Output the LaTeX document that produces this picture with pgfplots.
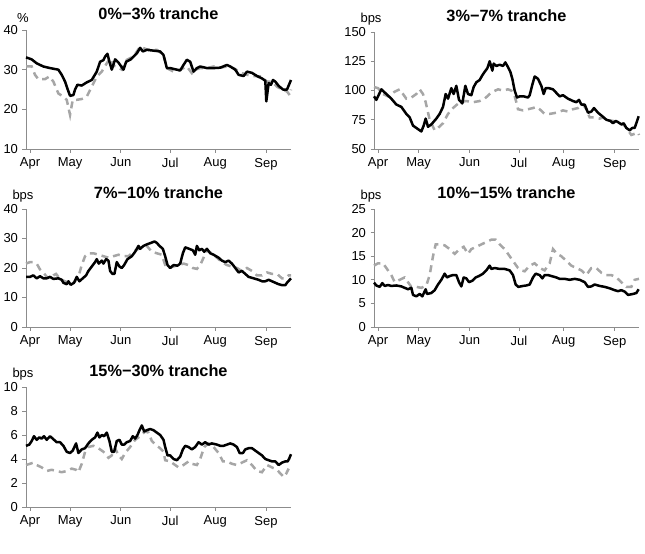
\documentclass[border=0pt]{standalone}
\usepackage{fontspec}
\setmainfont{Liberation Sans}
\usepackage{pgfplots}
\pgfplotsset{compat=1.18}
\definecolor{axgray}{HTML}{8C8C8C}
\definecolor{sergray}{HTML}{A6A6A6}
\pgfplotsset{
  panel/.style={
    scale only axis, width=265pt,
    axis x line*=bottom, axis y line*=left,
    axis line style={draw=axgray, line width=0.8pt},
    tick style={draw=axgray, line width=0.8pt},
    tick align=outside, major tick length=3.5pt,
    ticklabel style={font=\fontsize{13}{15}\selectfont},
    /pgf/number format/assume math mode=true,
    xticklabels={Apr,May,Jun,Jul,Aug,Sep},
    xticklabel style={yshift=-2pt},
    yticklabel style={xshift=-1pt},
    title style={font=\bfseries\fontsize{16.3}{19}\selectfont, anchor=base, at={(0.5,1)}, yshift=5pt},
    clip=false,
  },
  leftp/.style={panel, xmin=78, xmax=872, xtick={90,210,362,510,645,797}},
  rightp/.style={panel, xmin=163, xmax=958, xtick={175,297,450,598,732,885}},
  blk/.style={black, line width=2.5pt, line join=round},
  gry/.style={sergray, line width=2.5pt, dash pattern=on 7pt off 5pt},
}
\newcommand{\unitlab}[2]{\node[anchor=base, font=\fontsize{13}{15}\selectfont] at ([xshift=-3pt, yshift=#2]rel axis cs:0,1) {#1};}
\begin{document}
\begin{tikzpicture}
\useasboundingbox (0,0) rectangle (645pt,-554pt);
% Panel 1
\begin{axis}[leftp, at={(26pt,-149pt)}, anchor=south west, height=119pt,
  ymin=10, ymax=40, ytick={10,20,30,40}, title={0\%\textminus3\% tranche}]
\addplot[gry] coordinates {(78,30.8)(95,30.8)(105,28.7)(115,27.6)(135,27.6)(148,28.3)(160,27.0)(175,24.0)(190,23.2)(200,22.4)(210,18.6)(218,22.4)(230,22.4)(245,22.6)(260,23.2)(275,25.7)(290,28.3)(305,29.5)(320,31.6)(330,32.9)(340,31.0)(350,30.8)(365,30.0)(380,32.5)(400,33.3)(420,35.8)(440,35.1)(470,35.0)(490,33.7)(500,30.4)(520,29.5)(540,30.0)(560,30.8)(575,29.1)(585,30.0)(600,30.4)(620,30.4)(640,30.8)(660,30.5)(680,30.8)(700,30.4)(720,29.3)(740,28.7)(760,28.4)(780,28.3)(800,27.0)(815,27.0)(830,25.7)(845,25.0)(860,24.5)(868,23.6)(872,25.0)};
\addplot[blk] coordinates {(78,33.1)(95,32.6)(110,31.6)(130,30.8)(150,30.4)(175,30.0)(185,28.7)(195,27.0)(203,25.0)(210,23.4)(220,23.6)(225,25.0)(232,26.2)(245,26.0)(260,26.8)(275,27.4)(290,29.5)(300,32.0)(310,32.4)(315,33.3)(322,34.0)(328,32.0)(335,30.0)(345,32.6)(355,31.8)(370,30.0)(378,32.0)(392,32.6)(400,33.3)(410,34.1)(420,35.5)(428,34.6)(440,35.0)(460,34.8)(480,34.6)(490,33.7)(500,30.4)(510,30.4)(525,30.1)(540,29.8)(550,31.2)(560,32.5)(570,32.0)(580,29.5)(590,30.4)(600,30.8)(620,30.4)(640,30.4)(660,30.5)(680,31.2)(690,30.8)(705,30.0)(715,28.7)(730,28.4)(740,29.5)(755,29.2)(770,28.4)(785,27.8)(795,27.2)(798,22.0)(805,26.6)(812,26.2)(818,27.4)(825,27.0)(835,25.9)(848,25.0)(860,25.0)(872,27.4)};
\unitlab{\%}{8pt}
\end{axis}
% Panel 2
\begin{axis}[rightp, at={(374pt,-149pt)}, anchor=south west, height=117pt,
  ymin=50, ymax=150, ytick={50,75,100,125,150}, title={3\%\textminus7\% tranche}]
\addplot[gry] coordinates {(163,103)(175,102)(190,97)(205,95)(225,99)(240,101)(260,93)(275,94)(290,97)(300,101)(310,97)(318,90)(330,75)(345,66)(355,68)(370,72)(385,80)(400,85)(420,90)(440,91)(460,90)(480,91)(495,93)(510,97)(520,99)(535,101)(550,100)(565,101)(575,100)(585,95)(590,90)(595,84)(610,83)(625,84)(640,85)(650,86)(660,84)(675,80)(690,80)(710,81)(730,83)(745,82)(760,84)(775,85)(790,88)(800,84)(810,77)(825,77)(840,76)(850,77)(860,75)(880,74)(900,72)(915,70)(925,66)(935,62)(945,63)(955,64)(958,62)};
\addplot[blk] coordinates {(163,95)(170,92)(185,101)(200,97)(215,93)(230,88)(245,86)(260,80)(270,77)(280,70)(295,67)(305,65)(312,70)(318,76)(325,69)(335,71)(350,76)(360,80)(370,86)(378,97)(385,93)(395,102)(402,97)(410,104)(418,92)(428,89)(437,104)(445,97)(455,96)(462,103)(470,107)(480,109)(488,113)(495,116)(503,119)(510,125)(518,117)(522,123)(530,121)(540,122)(550,121)(557,124)(565,120)(572,116)(578,110)(585,100)(592,94)(600,95)(612,95)(625,94)(630,96)(638,105)(645,112)(655,110)(665,104)(672,97)(678,102)(688,102)(700,101)(710,98)(720,95)(730,96)(745,93)(760,91)(770,90)(778,92)(785,88)(795,88)(805,81)(815,82)(823,85)(835,81)(848,78)(860,75)(872,74)(880,72)(888,74)(895,73)(905,71)(912,72)(920,68)(930,66)(938,68)(945,68)(950,72)(957,78)};
\unitlab{bps}{10pt}
\end{axis}
% Panel 3
\begin{axis}[leftp, at={(26pt,-327pt)}, anchor=south west, height=118pt,
  ymin=0, ymax=40, ytick={0,10,20,30,40}, title={7\%\textminus10\% tranche}]
\addplot[gry] coordinates {(78,21.5)(90,22)(100,22)(110,21.5)(120,19.5)(130,18.5)(140,17)(150,16.5)(160,17.5)(168,18)(175,17)(185,16)(195,15.5)(205,15)(215,14.5)(225,15.5)(235,17)(245,21)(255,24)(265,25)(280,25)(295,24.5)(310,24)(325,23.5)(340,24)(355,24.5)(370,24)(385,24)(400,25.5)(415,26.5)(425,27)(440,27.5)(455,25.5)(470,25)(485,24.5)(495,21)(505,20)(520,20.5)(535,21)(550,21.5)(565,21)(578,20)(590,19.7)(600,21)(612,24)(620,26)(635,25)(650,23.5)(665,22)(680,21)(695,20.5)(710,20)(725,19)(740,20)(755,19)(770,17.5)(785,17.5)(800,18.5)(815,18)(830,18)(845,16.5)(855,16.5)(865,17.5)(872,17.5)};
\addplot[blk] coordinates {(78,17)(90,17)(100,17.5)(110,16.5)(120,17.2)(130,16.5)(140,16.5)(150,17)(160,16.3)(175,16.5)(185,16)(190,15)(200,14.5)(205,15.5)(212,14.3)(222,15)(230,17)(238,15.5)(248,16.5)(258,17.5)(265,19)(275,20.5)(285,22)(290,23)(296,21.5)(305,22.5)(310,21.5)(318,23)(325,22.5)(330,19)(337,18)(343,18)(350,22)(358,20.5)(365,20)(372,21)(382,23)(395,24)(405,25.5)(415,27.5)(420,26.5)(430,27.5)(440,28)(452,28.5)(463,29)(470,28.5)(478,27.5)(488,26.5)(495,24)(502,21)(510,20)(520,21)(532,20.8)(540,21.5)(548,25)(555,27)(567,26.5)(578,26)(585,24.5)(590,27.5)(597,26)(605,26.5)(612,25.5)(620,26.5)(630,25)(640,24.5)(655,23.5)(665,22.5)(675,22)(685,22.5)(695,21.5)(705,20)(715,18.5)(725,19)(735,18)(745,17)(760,16.5)(775,16)(785,15.5)(795,15.5)(805,16)(815,15.5)(825,15)(835,14.5)(845,14.2)(855,14.2)(860,15)(872,16.5)};
\unitlab{bps}{10pt}
\end{axis}
% Panel 4
\begin{axis}[rightp, at={(374pt,-327pt)}, anchor=south west, height=118pt,
  ymin=0, ymax=25, ytick={0,5,10,15,20,25}, title={10\%\textminus15\% tranche}]
\addplot[gry] coordinates {(163,13)(175,13.5)(190,13.5)(200,12.5)(215,11)(225,9.5)(240,10)(255,10.5)(265,9.5)(275,8.5)(290,8.5)(305,8.3)(320,8.8)(330,11)(340,15)(348,17.5)(360,17.5)(375,17.3)(390,16.5)(405,15.5)(420,16.5)(432,17)(445,15.5)(455,16.5)(470,17)(485,17.5)(500,18)(515,18.5)(528,18.5)(540,17.5)(555,16.5)(570,15)(585,13.5)(595,12.5)(605,12)(615,11.8)(630,13)(645,13.5)(660,12.5)(675,12)(690,13.5)(700,16.5)(712,15.5)(725,15)(740,14)(755,13)(770,12.5)(785,12)(800,11)(815,12.5)(830,12.5)(845,11.5)(860,11)(875,11)(890,10.5)(905,9.5)(920,8.5)(935,8.5)(945,10)(958,10.2)};
\addplot[blk] coordinates {(163,9.4)(170,8.8)(180,8.5)(188,9.3)(195,8.7)(205,8.9)(215,8.7)(230,8.8)(245,8.6)(255,8.3)(265,8)(275,8.3)(280,6.8)(290,6.5)(300,7)(308,6.5)(318,8)(322,7)(335,7.2)(345,7.8)(355,9)(365,10)(375,11.3)(382,10.5)(390,10.8)(400,11)(410,11)(418,9.5)(425,8.6)(432,10.5)(440,10.3)(448,9.5)(458,9.8)(468,10.5)(478,10.8)(490,11.3)(500,12)(510,13)(515,12.3)(525,12.5)(540,12.3)(555,12.3)(570,12)(580,11)(588,9)(596,8.5)(610,8.7)(620,8.8)(630,9)(640,10.5)(648,11.3)(660,11)(668,10.3)(675,11)(685,11)(695,10.8)(710,10.5)(720,10.2)(735,10.2)(750,10)(765,10.2)(780,10)(795,9.5)(805,8.5)(815,8.6)(825,9)(840,8.7)(855,8.5)(870,8.2)(885,7.8)(895,7.6)(905,7.8)(915,7.5)(925,6.8)(940,7)(950,7.2)(957,8)};
\unitlab{bps}{10pt}
\end{axis}
% Panel 5
\begin{axis}[leftp, at={(26pt,-507pt)}, anchor=south west, height=120pt,
  ymin=0, ymax=10, ytick={0,2,4,6,8,10}, title={15\%\textminus30\% tranche}]
\addplot[gry] coordinates {(78,3.5)(90,3.6)(100,3.7)(110,3.5)(125,3.3)(140,3.0)(155,3.1)(170,3.0)(185,2.9)(200,3.0)(215,3.2)(228,3.1)(235,2.9)(245,3.6)(255,4.6)(265,5.0)(280,5.1)(295,4.9)(310,4.6)(325,4.1)(335,4.3)(345,4.9)(355,4.3)(365,4.0)(375,4.5)(390,5.0)(405,5.6)(420,5.9)(435,6.3)(445,6.2)(455,5.5)(470,5.1)(480,4.9)(490,4.6)(495,3.9)(510,3.8)(525,3.5)(535,3.3)(550,3.5)(565,3.8)(575,3.6)(590,3.5)(600,4.0)(612,5.0)(625,5.3)(640,5.0)(655,4.5)(668,3.8)(680,3.8)(695,3.6)(710,3.5)(725,3.7)(740,3.9)(755,3.5)(770,3.0)(785,2.9)(800,3.5)(815,3.3)(830,3.1)(840,2.8)(850,2.5)(858,2.8)(865,3.2)};
\addplot[blk] coordinates {(78,5.1)(88,5.2)(95,5.5)(102,5.9)(110,5.6)(118,5.8)(125,5.7)(132,5.9)(140,5.6)(150,5.9)(158,5.7)(170,5.4)(180,5.4)(190,5.1)(200,4.6)(210,4.5)(218,4.7)(228,5.3)(235,4.5)(245,4.8)(255,4.9)(265,5.3)(275,5.6)(285,5.8)(292,6.2)(298,5.8)(305,6.0)(312,5.9)(320,6.2)(328,5.5)(335,4.6)(342,4.6)(350,5.5)(358,5.6)(365,5.2)(372,5.2)(380,5.4)(390,5.5)(398,5.9)(405,5.7)(412,6.0)(418,6.4)(425,6.8)(432,6.3)(440,6.4)(450,6.5)(460,6.4)(470,6.2)(480,6.0)(490,5.6)(495,5.0)(502,4.3)(510,4.3)(520,4.0)(530,3.9)(540,4.2)(548,4.8)(555,5.1)(565,5.0)(575,4.8)(585,5.0)(595,5.4)(605,5.2)(615,5.4)(625,5.2)(635,5.3)(650,5.2)(660,5.1)(670,5.1)(680,5.2)(690,5.3)(700,5.2)(710,5.0)(718,4.5)(728,4.5)(735,4.8)(745,4.9)(755,4.9)(765,4.7)(775,4.5)(785,4.3)(795,4.0)(805,3.9)(815,3.8)(825,3.8)(835,3.5)(845,3.7)(855,3.8)(862,3.8)(866,4.0)(872,4.4)};
\unitlab{bps}{10pt}
\end{axis}
\end{tikzpicture}
\end{document}
